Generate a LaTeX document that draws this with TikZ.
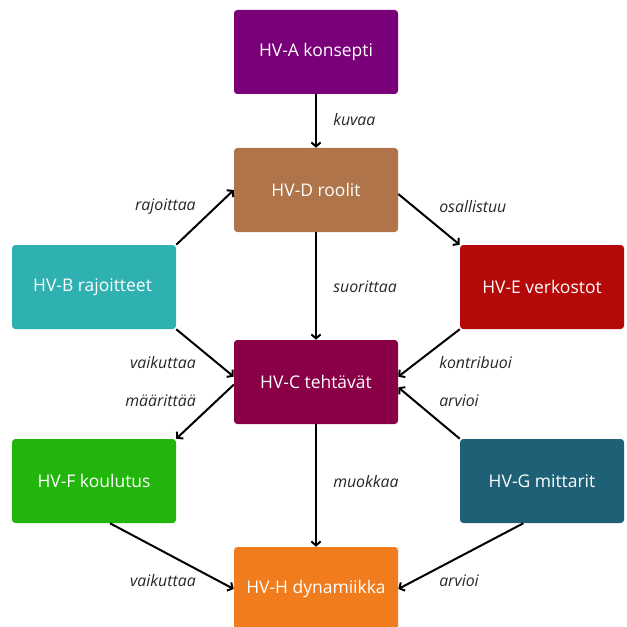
\documentclass[tikz,border=0pt]{standalone}
\usepackage{fontspec}
\setmainfont{Open Sans}
\usetikzlibrary{positioning, arrows.meta}

\definecolor{hvA}{HTML}{7A007A}
\definecolor{hvB}{HTML}{2FB1B1}
\definecolor{hvC}{HTML}{8A0047}
\definecolor{hvD}{HTML}{AF7449}
\definecolor{hvE}{HTML}{B50808}
\definecolor{hvF}{HTML}{22B50B}
\definecolor{hvG}{HTML}{1E6075}
\definecolor{hvH}{HTML}{F07C1E}

\tikzset{
    box/.style={rectangle, rounded corners=2.5pt, minimum width=123pt, minimum height=63pt,
        inner sep=0pt, text=white, font=\fontsize{13.1}{15}\selectfont},
    rel/.style={font=\fontsize{11.9}{14}\selectfont\itshape, text=black!85, inner sep=0pt},
    link/.style={-{Straight Barb[length=3pt,width=7pt]}, line width=1.5pt}
}

\begin{document}
\begin{tikzpicture}[x=0.75pt, y=-0.75pt]
    \useasboundingbox (0,0) rectangle (626,627);
    \clip (0,0) rectangle (626,627);
    \node[box, fill=hvA] (konsepti) at (316,52) {HV-A konsepti};
    \node[box, fill=hvD] (roolit) at (316,190) {HV-D roolit};
    \node[box, fill=hvB] (rajoitteet) at (94,287) {HV-B rajoitteet\,};
    \node[box, fill=hvE] (verkostot) at (542,287) {HV-E verkostot};
    \node[box, fill=hvC] (tehtavat) at (316,382) {HV-C tehtävät};
    \node[box, fill=hvF] (koulutus) at (94,481) {HV-F koulutus};
    \node[box, fill=hvG] (mittarit) at (542,481) {HV-G mittarit};
    \node[box, fill=hvH] (dynamiikka) at (316,589) {HV-H dynamiikka};

    \draw[link] (konsepti) -- (roolit);
    \draw[link] (roolit) -- (tehtavat);
    \draw[link] (tehtavat) -- (dynamiikka);
    \draw[link] (rajoitteet.north east) -- (roolit.west);
    \draw[link] ([yshift=-3pt]roolit.east) -- (verkostot.north west);
    \draw[link] (rajoitteet.south east) -- ([yshift=4pt]tehtavat.west);
    \draw[link] ([yshift=-2pt]tehtavat.west) -- (koulutus.north east);
    \draw[link] (verkostot.south west) -- ([yshift=4pt]tehtavat.east);
    \draw[link] (mittarit.north west) -- ([yshift=-4pt]tehtavat.east);
    \draw[link] ([xshift=12pt]koulutus.south) -- (dynamiikka.west);
    \draw[link] ([xshift=-14pt]mittarit.south) -- (dynamiikka.east);

    \node[rel, anchor=west] at (333,120) {kuvaa};
    \node[rel, anchor=east] at (196,207) {rajoittaa};
    \node[rel, anchor=west] at (439,207) {osallistuu};
    \node[rel, anchor=west] at (333,287) {suorittaa};
    \node[rel, anchor=east] at (196,363) {vaikuttaa};
    \node[rel, anchor=west] at (439,363) {kontribuoi};
    \node[rel, anchor=east] at (196,401) {määrittää};
    \node[rel, anchor=west] at (439,401) {arvioi};
    \node[rel, anchor=west] at (333,482) {muokkaa};
    \node[rel, anchor=east] at (196,581) {vaikuttaa};
    \node[rel, anchor=west] at (439,581) {arvioi};
\end{tikzpicture}
\end{document}
